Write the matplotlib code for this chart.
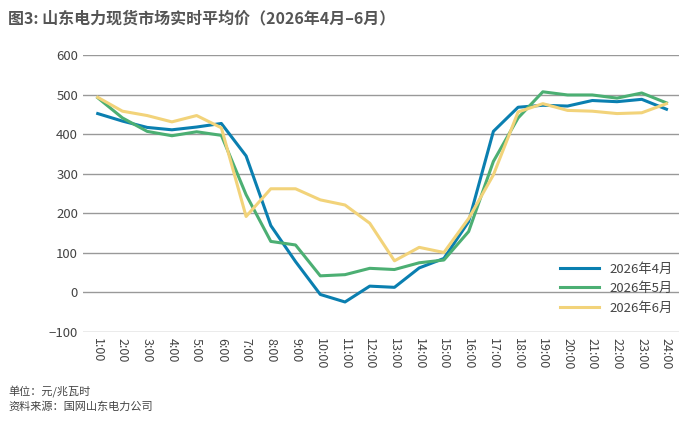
import matplotlib
matplotlib.use("Agg")
import matplotlib.pyplot as plt

plt.rcParams["font.family"] = ["Noto Sans CJK SC", "DejaVu Sans"]

hours = [f"{h}:00" for h in range(1, 25)]
apr = [452, 433, 417, 411, 418, 427, 345, 169, 78, -5, -24, 16, 13, 62, 86, 179,
       407, 468, 473, 471, 485, 482, 488, 463]
may = [492, 441, 407, 396, 406, 397, 247, 129, 120, 42, 45, 61, 58, 75, 82, 154,
       331, 441, 507, 499, 499, 491, 504, 479]
jun = [493, 458, 447, 431, 447, 416, 192, 262, 262, 234, 221, 175, 80, 114, 101, 187,
       297, 456, 477, 460, 458, 452, 454, 477]

fig = plt.figure(figsize=(6.85, 4.23), dpi=100)
ax = fig.add_axes([0.121, 0.215, 0.87, 0.655])
x = range(len(hours))
ax.plot(x, apr, color="#0a7fb0", lw=2.2, label="2026年4月")
ax.plot(x, may, color="#4caf73", lw=2.2, label="2026年5月")
ax.plot(x, jun, color="#f2d37a", lw=2.2, label="2026年6月")

ax.set_ylim(-100, 600)
ax.set_yticks(range(-100, 601, 100))
ax.set_xlim(-0.6, 23.5)
ax.set_xticks(list(x))
ax.set_xticklabels(hours, rotation=-90, fontsize=9, color="#444444")
ax.tick_params(axis="y", labelsize=9.5, colors="#444444", length=0)
ax.tick_params(axis="x", length=0, pad=4)
ax.grid(axis="y", color="#999999", lw=1)
for s in ax.spines.values():
    s.set_visible(False)
ax.legend(loc="lower right", frameon=False, fontsize=9.5, handlelength=3,
          labelcolor="#444444", bbox_to_anchor=(1.01, 0.02))

fig.text(0.012, 0.945, "图3: 山东电力现货市场实时平均价（2026年4月–6月）", fontsize=11.5,
         fontweight="bold", color="#555555")
fig.text(0.012, 0.065, "单位：元/兆瓦时", fontsize=8, color="#444444", style="italic")
fig.text(0.012, 0.03, "资料来源：国网山东电力公司", fontsize=8, color="#444444", style="italic")
fig.savefig("out.png", dpi=100)
